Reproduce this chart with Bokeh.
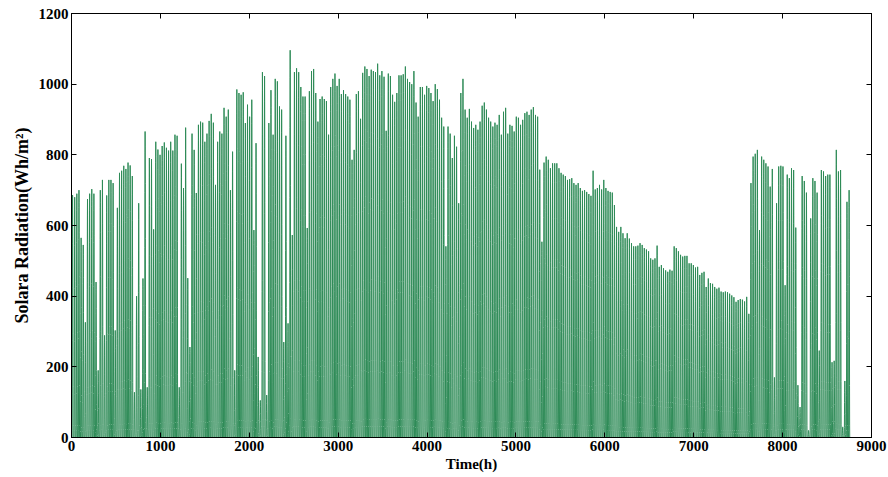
import numpy as np
from bokeh.plotting import figure
from bokeh.models import LinearAxis, FixedTicker, Range1d
from bokeh.embed import file_html
from bokeh.resources import INLINE

# Daily peak solar radiation (Wh/m^2), day 0..364
daily_peak = [
    686, 680, 690, 700, 565, 545, 326, 675, 690, 703, 690, 440, 190, 700, 729, 289, 685, 729, 729, 720,
    303, 650, 749, 755, 769, 760, 778, 770, 740, 128, 400, 663, 136, 450, 866, 142, 791, 788, 589, 837,
    815, 800, 825, 835, 820, 812,
    837, 812, 857, 854, 142, 775, 706, 877, 451, 256, 860, 814, 692, 885, 894, 891, 837, 860, 896, 916,
    891, 715, 837, 866, 860, 933, 908, 928, 700, 809, 190, 985, 975, 970, 977, 890, 942, 908, 956, 587,
    833, 228, 105, 1034, 1023, 120, 890, 983,
    857, 1015, 1008, 937, 928, 270, 854, 323, 1096, 573, 1034, 1045, 1034, 992, 965, 965, 593, 980, 1037, 1043,
    975, 894, 958, 965, 958, 952, 857, 992, 1015, 1030, 995, 1015, 972, 983, 972, 965, 956, 786, 814, 972,
    980, 902, 1032, 1050, 1043, 1023,
    1041, 1037, 1034, 1058, 1025, 1037, 1021, 868, 1030, 1023, 970, 950, 975, 1025, 1025, 1028, 1050, 1015, 1006, 1000,
    1037, 948, 908, 992, 992, 970, 995, 989, 975, 952, 1000, 986, 956, 905, 880, 541, 880, 860, 791, 854,
    823, 663, 975, 1015, 928, 905, 930,
    894, 876, 885, 871, 894, 939, 948, 928, 905, 894, 880, 891, 885, 913, 857, 922, 933, 860, 885, 882,
    866, 908, 905, 885, 899, 918, 922, 913, 928, 935, 913, 908, 758, 554, 778, 795, 786, 762, 776, 776,
    776, 762, 749, 744, 740, 729,
    731, 734, 720, 715, 720, 706, 698, 700, 695, 689, 684, 755, 702, 706, 715, 702, 729, 706, 698, 695,
    693, 658, 596, 582, 596, 578, 564, 578, 563, 550, 541, 541, 543, 550, 545, 536, 532, 527, 507, 503,
    507, 543, 483, 488, 479, 473, 469, 475,
    472, 541, 536, 527, 517, 512, 514, 514, 493, 493, 488, 481, 483, 460, 466, 469, 426, 450, 437, 435,
    426, 421, 424, 413, 411, 413, 411, 407, 402, 397, 384, 389, 392, 390, 385, 398, 350, 720, 795, 803,
    814, 587, 795, 786, 776, 767, 710,
    760, 170, 663, 767, 769, 767, 431, 744, 734, 762, 757, 594, 148, 86, 740, 726, 693, 20, 620, 734,
    726, 693, 246, 757, 753, 740, 744, 744, 213, 217, 814, 753, 757, 30, 160, 667, 700,
]

# Typical hourly shape of one day (fraction of the daily peak), hour 0..23
hourly_shape = [0, 0, 0, 0, 0, 0, 0.03, 0.18, 0.40, 0.62, 0.80, 0.93,
                1.0, 0.95, 0.83, 0.65, 0.43, 0.21, 0.05, 0, 0, 0, 0, 0]

x_ticks = [0, 1000, 2000, 3000, 4000, 5000, 6000, 7000, 8000, 9000]
y_ticks = [0, 200, 400, 600, 800, 1000, 1200]

values = (np.array(daily_peak, dtype=float)[:, None] * np.array(hourly_shape)[None, :]).ravel()
hours = np.arange(len(values))

FONT = "Liberation Serif"

p = figure(width=888, height=477, output_backend="svg", toolbar_location=None,
           x_range=Range1d(0, 9000), y_range=Range1d(0, 1200),
           min_border_left=71, min_border_right=17, min_border_top=13, min_border_bottom=40)
p.background_fill_color = "white"
p.border_fill_color = "white"
p.outline_line_color = "black"
p.outline_line_width = 1
p.grid.visible = False

p.line(hours, values, line_color="#2e8b57", line_width=1)

def style_axis(ax, ticks, labels=True):
    ax.ticker = FixedTicker(ticks=ticks)
    ax.major_tick_in = 5
    ax.major_tick_out = 0
    ax.minor_tick_line_color = None
    ax.axis_line_color = "black"
    ax.major_tick_line_color = "black"
    if labels:
        ax.major_label_text_font = FONT
        ax.major_label_text_font_style = "bold"
        ax.major_label_text_font_size = "15px"
        ax.major_label_text_color = "black"
        ax.major_label_standoff = 3
    else:
        ax.major_label_text_color = None
        ax.major_label_text_font_size = "0px"
        ax.major_label_standoff = 0

style_axis(p.xaxis[0], x_ticks)
style_axis(p.yaxis[0], y_ticks)
p.xaxis.axis_label = "Time(h)"
p.yaxis.axis_label = "Solara Radiation(Wh/m²)"
for ax in (p.xaxis[0], p.yaxis[0]):
    ax.axis_label_text_font = FONT
    ax.axis_label_text_font_style = "bold"
    ax.axis_label_text_color = "black"
p.xaxis.axis_label_text_font_size = "15px"
p.yaxis.axis_label_text_font_size = "18px"
p.xaxis.axis_label_standoff = 2
p.yaxis.axis_label_standoff = 4

right = LinearAxis()
style_axis(right, y_ticks, labels=False)
p.add_layout(right, "right")
top = LinearAxis()
style_axis(top, x_ticks, labels=False)
p.add_layout(top, "above")

open("out.html", "w").write(file_html(p, INLINE))
